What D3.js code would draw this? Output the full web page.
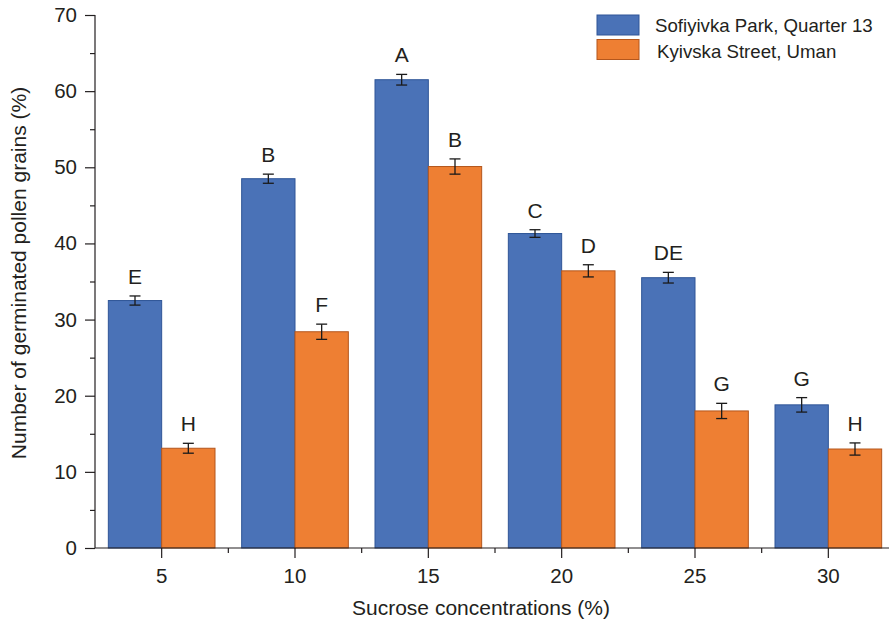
<!DOCTYPE html>
<html>
<head>
<meta charset="utf-8">
<script src="https://cdn.jsdelivr.net/npm/d3@7"></script>
<style>
  html, body { margin: 0; padding: 0; background: #fff; }
  svg { display: block; font-family: "Liberation Sans", Arial, sans-serif; }
</style>
</head>
<body>
<svg id="chart" width="889" height="628"></svg>
<script>
// ---- data ----
const categories = ["5", "10", "15", "20", "25", "30"];
const seriesNames = ["Sofiyivka Park, Quarter 13", "Kyivska Street, Uman"];
const parkValues = [32.5, 48.5, 61.5, 41.3, 35.5, 18.8];
const parkErrors = [0.6, 0.6, 0.7, 0.5, 0.7, 0.95];
const parkLetters = ["E", "B", "A", "C", "DE", "G"];
const streetValues = [13.1, 28.4, 50.1, 36.4, 18.0, 13.0];
const streetErrors = [0.65, 1.0, 1.0, 0.8, 1.0, 0.8];
const streetLetters = ["H", "F", "B", "D", "G", "H"];
const yTicks = [0, 10, 20, 30, 40, 50, 60, 70];
const yMinorTicks = [5, 15, 25, 35, 45, 55, 65];
const colors = ["#4A72B7", "#EE7F33"];
const strokes = ["#2F5597", "#B4561C"];

const svg = d3.select("#chart");
const textColor = "#231f20";
const fs = 20.5;
const titleFs = 21;

const x = d3.scaleBand().domain(categories).range([95, 895]).paddingInner(0.2).paddingOuter(0.1);
const xSub = d3.scaleBand().domain([0, 1]).range([0, x.bandwidth()]);
const y = d3.scaleLinear().domain([0, 70]).range([548, 15]);

const series = [
  { values: parkValues, errors: parkErrors, letters: parkLetters },
  { values: streetValues, errors: streetErrors, letters: streetLetters }
];

// bars
series.forEach((s, si) => {
  const g = svg.append("g");
  categories.forEach((c, i) => {
    const x0 = x(c) + xSub(si);
    const v = s.values[i], e = s.errors[i];
    g.append("rect")
      .attr("x", x0).attr("y", y(v))
      .attr("width", xSub.bandwidth()).attr("height", y(0) - y(v))
      .attr("fill", colors[si]).attr("stroke", strokes[si]).attr("stroke-width", 1);
    const cx = x0 + xSub.bandwidth() / 2;
    const eg = g.append("g").attr("stroke", "#1a1a1a").attr("stroke-width", 1.3);
    eg.append("line").attr("x1", cx).attr("x2", cx).attr("y1", y(v + e)).attr("y2", y(v - e));
    eg.append("line").attr("x1", cx - 5.5).attr("x2", cx + 5.5).attr("y1", y(v + e)).attr("y2", y(v + e));
    eg.append("line").attr("x1", cx - 5.5).attr("x2", cx + 5.5).attr("y1", y(v - e)).attr("y2", y(v - e));
    g.append("text")
      .attr("x", cx).attr("y", y(v + e) - 12)
      .attr("text-anchor", "middle")
      .attr("font-size", 21).attr("fill", textColor)
      .text(s.letters[i]);
  });
});

// y axis
const yAxis = svg.append("g").attr("transform", "translate(95,0)")
  .call(d3.axisLeft(y).tickValues(yTicks).tickSize(10).tickPadding(8));
yAxis.selectAll("text").attr("font-size", fs).attr("fill", textColor).attr("font-family", "Liberation Sans, Arial, sans-serif");
yAxis.select(".domain").attr("d", `M0,${y(0)}V${y(70)}`);
yAxis.selectAll("line, path").attr("stroke", textColor).attr("stroke-width", 1.2);
svg.append("g").attr("transform", "translate(95,0)")
  .call(d3.axisLeft(y).tickValues(yMinorTicks).tickSize(5).tickFormat(""))
  .call(g => g.select(".domain").remove())
  .selectAll("line").attr("stroke", textColor).attr("stroke-width", 1.2);

// x axis
const xAxis = svg.append("g").attr("transform", `translate(0,${y(0)})`)
  .call(d3.axisBottom(x).tickSize(10).tickPadding(10));
xAxis.select(".domain").attr("d", "M95,0H895");
xAxis.selectAll("text").attr("font-size", fs).attr("fill", textColor).attr("font-family", "Liberation Sans, Arial, sans-serif");
xAxis.selectAll("line, path").attr("stroke", textColor).attr("stroke-width", 1.2);
const minorX = categories.slice(1).map(c => x(c) - x.step() * x.paddingInner() / 2);
svg.append("g").attr("transform", `translate(0,${y(0)})`)
  .selectAll("line").data(minorX).join("line")
  .attr("x1", d => d).attr("x2", d => d).attr("y1", 0).attr("y2", 5)
  .attr("stroke", textColor).attr("stroke-width", 1.2);

// axis titles
svg.append("text")
  .attr("x", 481).attr("y", 615)
  .attr("text-anchor", "middle").attr("font-size", titleFs).attr("fill", textColor)
  .text("Sucrose concentrations (%)");
svg.append("text")
  .attr("transform", "translate(26,273) rotate(-90)")
  .attr("text-anchor", "middle").attr("font-size", titleFs).attr("fill", textColor)
  .text("Number of germinated pollen grains (%)");

// legend
const legend = svg.append("g");
const legendTexts = [];
seriesNames.forEach((name, i) => {
  legend.append("rect")
    .attr("x", 597).attr("y", 15 + i * 24.5)
    .attr("width", 42).attr("height", 20)
    .attr("fill", colors[i]).attr("stroke", strokes[i]).attr("stroke-width", 1);
  legendTexts.push(legend.append("text")
    .attr("x", 655 + (i === 1 ? 2 : 0)).attr("y", 31.5 + i * 26)
    .attr("font-size", 18).attr("fill", textColor)
    .text(name));
});
// fit legend text so the first entry spans the same width as the reference (≈218px)
const w0 = legendTexts[0].node().getComputedTextLength();
const legendFs = w0 > 0 ? 18 * 218 / w0 : 18;
legendTexts.forEach(t => t.attr("font-size", legendFs));
</script>
</body>
</html>
